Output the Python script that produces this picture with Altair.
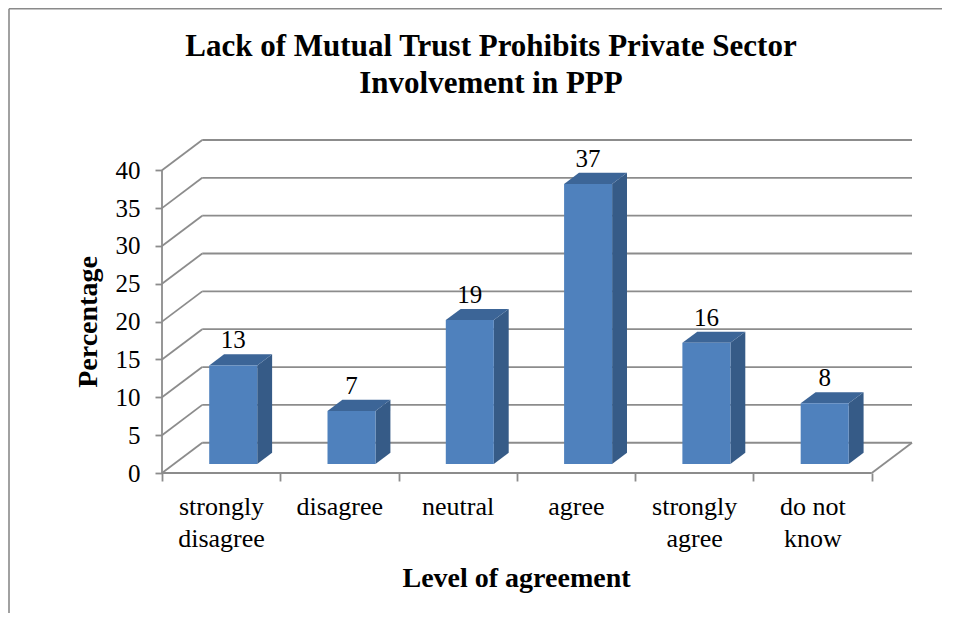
import json
import altair as alt
import pandas as pd

# ---------------- data ----------------
categories = ["strongly disagree", "disagree", "neutral", "agree", "strongly agree", "do not know"]
label_lines = [["strongly", "disagree"], ["disagree"], ["neutral"], ["agree"],
               ["strongly", "agree"], ["do not", "know"]]
values = [13, 7, 19, 37, 16, 8]
y_ticks = [0, 5, 10, 15, 20, 25, 30, 35, 40]

title_lines = ["Lack of Mutual Trust Prohibits Private Sector", "Involvement in PPP"]
x_title = "Level of agreement"
y_title = "Percentage"

# ---------------- style constants (pseudo-3D projection) ----------------
N = len(categories)
YMAX = max(y_ticks)
DX = 0.34          # depth offset, in category units
DY = 4.0           # depth offset, in percentage units
HALF = 0.203       # half bar width, in category units
BAR_FRONT, BAR_BACK = 0.30, 0.67   # bar position within the depth
W, H = 750, 333
FONT = "Liberation Serif"
GRID = "#8c8c8c"

xs = alt.Scale(domain=[0, N + DX], nice=False, zero=False)
ys = alt.Scale(domain=[0, YMAX + DY], nice=False, zero=False)

# bar faces table (two depth rows per bar)
rows = []
for i, (c, v) in enumerate(zip(categories, values)):
    for t in (BAR_FRONT, BAR_BACK):
        rows.append({"cat": c, "value": v, "idx": i, "t": t})
df_faces = pd.DataFrame(rows)
df_faces["xl"] = df_faces["idx"] + 0.5 - HALF + df_faces["t"] * DX
df_faces["xr"] = df_faces["idx"] + 0.5 + HALF + df_faces["t"] * DX
df_faces["yb"] = df_faces["t"] * DY
df_faces["yt"] = df_faces["value"] + df_faces["t"] * DY
df_front = df_faces[df_faces["t"] == BAR_FRONT].copy()
df_front["xc"] = (df_front["xl"] + df_front["xr"]) / 2
df_front["ylab"] = df_front["value"] + BAR_BACK * DY

df_grid = pd.DataFrame({"g": y_ticks})
df_grid["gy"] = df_grid["g"] + DY
df_grid["gx0"] = DX
df_grid["gx1"] = N + DX
df_grid["dx0"] = 0.0
df_grid["dx1"] = DX

df_frame = pd.DataFrame({"x0": [0.0], "xN": [float(N)], "xND": [N + DX],
                         "y0": [0.0], "yD": [DY], "yM": [float(YMAX)]})
df_one = pd.DataFrame({"a": [0]})

x_axis = alt.Axis(values=list(range(N + 1)), tickSize=8, tickColor=GRID, tickWidth=1.8,
                  domain=False, grid=False,
                  labelExpr=f"{json.dumps(label_lines)}[datum.value] || ''",
                  labelOffset=59, labelFont=FONT, labelFontSize=26, labelColor="black",
                  labelLineHeight=32, labelPadding=12, labelBaseline="top",
                  labelAlign="center", labelAngle=0, labelFlush=False, labelOverlap=False,
                  title=x_title, titleFont=FONT, titleFontSize=28, titleFontWeight="bold",
                  titleColor="black", titleX=354, titlePadding=13)
y_axis = alt.Axis(values=y_ticks, tickSize=7, tickColor=GRID, tickWidth=1.8,
                  domain=False, grid=False, labelFont=FONT, labelFontSize=25,
                  labelColor="black", labelPadding=15, labelFlush=False, labelOverlap=False,
                  title=y_title, titleFont=FONT, titleFontSize=28, titleFontWeight="bold",
                  titleColor="black", titleY=181.5, titlePadding=13)


def X(field):
    return alt.X(field, scale=xs, axis=x_axis)


def Y(field):
    return alt.Y(field, scale=ys, axis=y_axis)


# back wall gridlines
back_grid = alt.Chart(df_grid).mark_rule(color=GRID, strokeWidth=1.8).encode(
    x=X("gx0:Q"), x2="gx1:Q", y=Y("gy:Q"))
# side wall diagonals
side_grid = alt.Chart(df_grid).mark_rule(color=GRID, strokeWidth=1.8).encode(
    x=X("dx0:Q"), x2="dx1:Q", y=Y("g:Q"), y2="gy:Q")
# floor right edge
floor_edge = alt.Chart(df_frame).mark_rule(color=GRID, strokeWidth=1.8).encode(
    x=X("xN:Q"), x2="xND:Q", y=Y("y0:Q"), y2="yD:Q")
# floor front edge (x axis line)
floor_front = alt.Chart(df_frame).mark_rule(color=GRID, strokeWidth=1.8).encode(
    x=X("x0:Q"), x2="xN:Q", y=Y("y0:Q"))
# front y axis line
y_line = alt.Chart(df_frame).mark_rule(color=GRID, strokeWidth=1.8).encode(
    x=X("x0:Q"), y=Y("y0:Q"), y2="yM:Q")

side = alt.Chart(df_faces).mark_area(color="#365B87", opacity=1).encode(
    x=X("xr:Q"), y=Y("yb:Q"), y2="yt:Q", detail="cat:N")
top = alt.Chart(df_faces).mark_area(color="#3C6597", opacity=1, orient="horizontal").encode(
    y=Y("yt:Q"), x=X("xl:Q"), x2="xr:Q", detail="cat:N")
front = alt.Chart(df_front).mark_rect(color="#4F81BD").encode(
    x=X("xl:Q"), x2="xr:Q", y=Y("yb:Q"), y2="yt:Q")
labels = alt.Chart(df_front).mark_text(font=FONT, fontSize=25, color="black",
                                       baseline="alphabetic", dy=-6).encode(
    x=X("xc:Q"), y=Y("ylab:Q"), text="value:Q")

border_top = alt.Chart(df_one).mark_rule(color="#8a8a8a", strokeWidth=1.6).encode(
    x=alt.value(-153), x2=alt.value(820), y=alt.value(-131.2))
border_left = alt.Chart(df_one).mark_rule(color="#8a8a8a", strokeWidth=1.6).encode(
    x=alt.value(-153), y=alt.value(-131.2), y2=alt.value(520))

chart = alt.layer(
    border_top, border_left,
    back_grid, side_grid, floor_edge, floor_front, y_line,
    side, top, front, labels,
).properties(
    width=W, height=H,
    title=alt.TitleParams(text=title_lines, font=FONT, fontSize=31, fontWeight="bold",
                          color="black", anchor="middle", dx=-46, lineHeight=37,
                          offset=0, baseline="alphabetic", dy=116),
    autosize=alt.AutoSizeParams(type="none"),
    padding={"left": 154, "top": 132, "right": 30, "bottom": 140},
).configure_view(stroke=None)

chart.save("out.html", embed_options={"renderer": "svg", "actions": False})
